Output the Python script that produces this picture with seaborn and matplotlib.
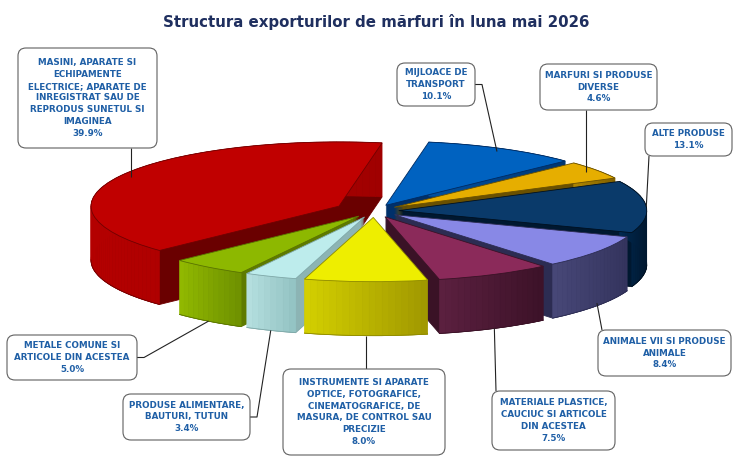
import numpy as np
import matplotlib
matplotlib.use("Agg")
import matplotlib.pyplot as plt
from matplotlib.transforms import Affine2D
from matplotlib.patches import FancyBboxPatch
from matplotlib.collections import PolyCollection
from matplotlib.colors import to_rgb
import seaborn as sns

# ---------------- data ----------------
title = "Structura exporturilor de mărfuri în luna mai 2026"
categories = [
    "MASINI, APARATE SI\nECHIPAMENTE\nELECTRICE; APARATE DE\nINREGISTRAT SAU DE\nREPRODUS SUNETUL SI\nIMAGINEA",
    "METALE COMUNE SI\nARTICOLE DIN ACESTEA",
    "PRODUSE ALIMENTARE,\nBAUTURI, TUTUN",
    "INSTRUMENTE SI APARATE\nOPTICE, FOTOGRAFICE,\nCINEMATOGRAFICE, DE\nMASURA, DE CONTROL SAU\nPRECIZIE",
    "MATERIALE PLASTICE,\nCAUCIUC SI ARTICOLE\nDIN ACESTEA",
    "ANIMALE VII SI PRODUSE\nANIMALE",
    "ALTE PRODUSE",
    "MARFURI SI PRODUSE\nDIVERSE",
    "MIJLOACE DE\nTRANSPORT",
]
values = [39.9, 5.0, 3.4, 8.0, 7.5, 8.4, 13.1, 4.6, 10.1]

# ---------------- style ----------------
top_colors = ["#C00000", "#8DB800", "#BDECEC", "#EEEE00", "#8B2A5A",
              "#8888E6", "#0A3A6A", "#E6AE00", "#0062C0"]
wall_light = ["#B40000", "#92BA00", "#B6E0E0", "#D4D000", "#5C2040",
              "#484878", "#002A52", "#B08600", "#0050A0"]
wall_dark = ["#A00000", "#6E9000", "#92C2C2", "#A09800", "#3C1228",
             "#34345E", "#001830", "#806000", "#003670"]
face_colors = ["#6A0000", "#5E7A00", "#8CB4B4", "#9A9400", "#3A1226",
               "#2C2C52", "#001830", "#6A5000", "#00306A"]
edge_colors = ["#700000", "#5A7400", "#7FA8A8", "#8F8A00", "#3A1226",
               "#2C2C52", "#001020", "#6A5000", "#002A60"]
explode_frac = [0.16, 0.1, 0.1, 0.1, 0.1, 0.1, 0.1, 0.1, 0.1]

sns.set_theme(style="white")
plt.rcParams["font.family"] = ["DejaVu Sans"]

W, H = 741, 459
fig = plt.figure(figsize=(W / 100, H / 100), dpi=100)
ax = fig.add_axes([0, 0, 1, 1])

CX, CY = 374, 248      # pie centre (pixels, y up)
R = 248                 # radius
K = 0.259               # vertical squash (tilt)
DEPTH = 54              # extrusion in px
START = 80
explode = [f * R for f in explode_frac]

fr = np.array(values) / np.sum(values)
theta1 = START + 360 * np.concatenate([[0], np.cumsum(fr)[:-1]])
theta2 = theta1 + 360 * fr
mid = (theta1 + theta2) / 2
rank = np.argsort(np.argsort(-np.sin(np.radians(mid))))  # back slices first


def zbase(i):
    return 10 + rank[i] * 4


def squash(d):
    return Affine2D().translate(-CX, -CY).scale(1, K).translate(CX, CY - d) + ax.transData


def draw_layer(d, colors, zoff, edges=None, lw=0.0):
    wedges, _ = ax.pie(values, startangle=START, counterclock=True, explode=explode,
                       radius=R, center=(CX, CY), colors=colors,
                       wedgeprops=dict(linewidth=lw, edgecolor="none"), frame=True)
    for i, w in enumerate(wedges):
        w.set_transform(squash(d))
        w.set_zorder(zbase(i) + zoff)
        if edges is not None:
            w.set_edgecolor(edges[i])
    return wedges


def pt(i, ang, d, rfrac=1.0):
    t = np.radians(ang)
    m = np.radians(mid[i])
    x = CX + explode[i] * np.cos(m) + rfrac * R * np.cos(t)
    y = CY + K * (explode[i] * np.sin(m) + rfrac * R * np.sin(t)) - d
    return x, y


# extruded body (radial cut faces) from bottom to top
for d in range(DEPTH, 0, -1):
    e = edge_colors if d == DEPTH else None
    draw_layer(d, face_colors, 0, edges=e, lw=0.6 if e else 0.0)

# outer curved walls with a left-to-right shading
for i in range(len(values)):
    n = max(6, int((theta2[i] - theta1[i]) / 1.5))
    angs = np.linspace(theta1[i], theta2[i], n + 1)
    xs_top, ys_top = pt(i, angs, 0)
    xs_bot, ys_bot = pt(i, angs, DEPTH)
    xmin, xmax = xs_top.min(), xs_top.max()
    lo, hi = np.array(to_rgb(wall_light[i])), np.array(to_rgb(wall_dark[i]))
    polys, cols = [], []
    for j in range(n):
        polys.append([(xs_top[j], ys_top[j]), (xs_top[j + 1], ys_top[j + 1]),
                      (xs_bot[j + 1], ys_bot[j + 1]), (xs_bot[j], ys_bot[j])])
        tt = ((xs_top[j] + xs_top[j + 1]) / 2 - xmin) / max(xmax - xmin, 1e-6)
        cols.append(lo * (1 - tt) + hi * tt)
    pc = PolyCollection(polys, facecolors=cols, edgecolors=cols, linewidths=0.4,
                        zorder=zbase(i) + 1)
    ax.add_collection(pc)
    front = np.sin(np.radians(angs)) <= 0.02
    if front.sum() > 1:
        ax.plot(np.where(front, xs_bot, np.nan), ys_bot, color=edge_colors[i],
                lw=0.6, zorder=zbase(i) + 1.5)

# top faces
draw_layer(0, top_colors, 2, edges=edge_colors, lw=0.6)

# label boxes (image px: x0, y0, x1, y1), anchor radius fraction, anchor drop (fraction of depth)
layout = [
    ((18, 48, 157, 148), 0.95, 0.0),
    ((7, 335, 137, 380), 1.0, 1.0),
    ((123, 394, 250, 440), 1.0, 1.0),
    ((283, 369, 445, 455), 1.0, 1.0),
    ((492, 391, 615, 450), 1.0, 1.0),
    ((598, 330, 731, 376), 1.0, 0.95),
    ((645, 123, 732, 156), 1.0, 0.0),
    ((540, 64, 657, 110), 0.95, 0.0),
    ((397, 63, 475, 106), 0.95, 0.0),
]

text_color = "#1F5FA6"
for i, ((x0, y0i, x1, y1i), rf, drop) in enumerate(layout):
    y0, y1 = H - y1i, H - y0i  # convert to y-up
    box = FancyBboxPatch((x0, y0), x1 - x0, y1 - y0,
                         boxstyle="round,pad=0,rounding_size=8",
                         fc="white", ec="#606060", lw=0.8, zorder=95)
    ax.add_patch(box)
    ax.text((x0 + x1) / 2, (y0 + y1) / 2, f"{categories[i]}\n{values[i]:.1f}%",
            ha="center", va="center", fontsize=6.3, fontweight="bold",
            color=text_color, linespacing=1.42, zorder=96)
    axx, axy = pt(i, mid[i], drop * DEPTH, rf)
    if x0 - 12 <= axx <= x1 + 12:
        yedge = y1 if axy > y1 else y0
        xs, ys = [axx, min(max(axx, x0 + 4), x1 - 4)], [axy, yedge]
    else:
        ym = (y0 + y1) / 2
        if axx > x1:
            xs, ys = [axx, x1 + 7, x1], [axy, ym, ym]
        else:
            xs, ys = [axx, x0 - 7, x0], [axy, ym, ym]
    ax.plot(xs, ys, color="#222222", lw=0.8, zorder=90, solid_capstyle="butt")

ax.text(376, H - 22, title, ha="center", va="center", fontsize=10.8,
        fontweight="bold", color="#1F2F5F", zorder=100)

ax.set_aspect("auto")
ax.set_xlim(0, W)
ax.set_ylim(0, H)
ax.set_position([0, 0, 1, 1])
ax.axis("off")
fig.savefig("out.png", dpi=100, facecolor="white")
